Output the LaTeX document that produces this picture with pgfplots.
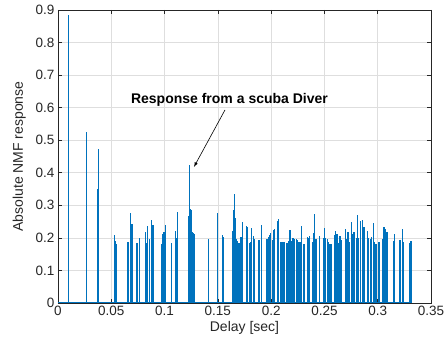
\documentclass[border=0pt]{standalone}
\usepackage{pgfplots}
\pgfplotsset{compat=1.18}
\usepackage{fontspec}
\setmainfont{Liberation Sans}
\definecolor{mblue}{rgb}{0,0.447,0.741}
\definecolor{mtext}{rgb}{0.15,0.15,0.15}
\definecolor{mgrid}{rgb}{0.87,0.87,0.87}
\begin{document}
\begin{tikzpicture}[x=1pt,y=1pt]
\begin{axis}[
  name=ax,
  scale only axis,
  width=373pt, height=293pt,
  xmin=0, xmax=0.35, ymin=0, ymax=0.9,
  xtick={0,0.05,...,0.35}, ytick={0,0.1,...,0.9},
  xticklabels={0,0.05,0.1,0.15,0.2,0.25,0.3,0.35},
  yticklabels={0,0.1,0.2,0.3,0.4,0.5,0.6,0.7,0.8,0.9},
  tick align=inside, xtick pos=both, ytick pos=both,
  major tick length=4pt,
  grid=major,
  major grid style={mgrid, line width=0.6pt},
  axis line style={mtext, line width=0.6pt},
  every tick/.style={mtext, line width=0.6pt},
  tick label style={font=\fontsize{13.5}{16}\selectfont, text=mtext},
  label style={font=\fontsize{14}{16}\selectfont, text=mtext},
  xlabel={Delay [sec]},
  ylabel={Absolute NMF response},
  xlabel style={yshift=2pt},
  ylabel style={yshift=3pt},
  clip=true,
]
\addplot[mblue, line width=1.4pt] coordinates {(0,0) (0.3325,0)};
\addplot[ycomb, mblue, line width=1.4pt, mark=none] coordinates {
(0.0097,0.884)
(0.0266,0.228)
(0.0269,0.524)
(0.0372,0.19)
(0.0375,0.351)
(0.0378,0.472)
(0.0381,0.43)
(0.0529,0.209)
(0.0535,0.19)
(0.054,0.181)
(0.0548,0.181)
(0.065,0.187)
(0.066,0.187)
(0.0682,0.277)
(0.0694,0.243)
(0.0741,0.184)
(0.0763,0.199)
(0.082,0.217)
(0.083,0.184)
(0.0838,0.237)
(0.086,0.196)
(0.0879,0.254)
(0.0891,0.239)
(0.0973,0.181)
(0.0982,0.212)
(0.0995,0.217)
(0.1007,0.240)
(0.1067,0.185)
(0.110,0.221)
(0.111,0.199)
(0.1123,0.279)
(0.1223,0.267)
(0.1232,0.424)
(0.1242,0.288)
(0.125,0.286)
(0.126,0.217)
(0.127,0.216)
(0.128,0.212)
(0.1414,0.196)
(0.1498,0.275)
(0.1542,0.209)
(0.1551,0.202)
(0.1636,0.221)
(0.1649,0.286)
(0.1655,0.334)
(0.1664,0.26)
(0.1673,0.197)
(0.1686,0.19)
(0.1698,0.185)
(0.171,0.202)
(0.172,0.202)
(0.1733,0.248)
(0.1767,0.236)
(0.1776,0.234)
(0.1795,0.185)
(0.1804,0.188)
(0.1814,0.229)
(0.1832,0.206)
(0.1842,0.198)
(0.188,0.193)
(0.1889,0.193)
(0.1908,0.240)
(0.1955,0.196)
(0.1964,0.196)
(0.1977,0.202)
(0.1986,0.209)
(0.1996,0.214)
(0.2015,0.193)
(0.2024,0.224)
(0.203,0.226)
(0.2062,0.253)
(0.2071,0.258)
(0.209,0.188)
(0.21,0.188)
(0.211,0.188)
(0.212,0.188)
(0.2146,0.183)
(0.2155,0.183)
(0.2165,0.19)
(0.2177,0.224)
(0.2186,0.19)
(0.2199,0.2)
(0.2208,0.2)
(0.2217,0.197)
(0.224,0.196)
(0.2249,0.193)
(0.2261,0.188)
(0.2274,0.188)
(0.2283,0.237)
(0.2302,0.181)
(0.2311,0.181)
(0.234,0.202)
(0.2349,0.2)
(0.2358,0.206)
(0.2386,0.188)
(0.2396,0.214)
(0.2405,0.274)
(0.2414,0.196)
(0.2427,0.196)
(0.2452,0.206)
(0.2489,0.199)
(0.2502,0.229)
(0.2512,0.2)
(0.253,0.196)
(0.254,0.188)
(0.2549,0.181)
(0.256,0.181)
(0.2593,0.209)
(0.2606,0.222)
(0.2615,0.212)
(0.2624,0.212)
(0.2634,0.183)
(0.2646,0.206)
(0.2662,0.193)
(0.27,0.228)
(0.2709,0.196)
(0.2721,0.217)
(0.2731,0.188)
(0.2756,0.249)
(0.2768,0.212)
(0.2778,0.217)
(0.2799,0.199)
(0.2808,0.269)
(0.2821,0.199)
(0.284,0.252)
(0.2856,0.254)
(0.2871,0.234)
(0.2906,0.221)
(0.2915,0.199)
(0.293,0.197)
(0.294,0.202)
(0.2959,0.245)
(0.2968,0.187)
(0.2981,0.181)
(0.299,0.181)
(0.3009,0.186)
(0.3018,0.187)
(0.3047,0.196)
(0.3059,0.234)
(0.3068,0.226)
(0.3078,0.219)
(0.309,0.217)
(0.3146,0.19)
(0.3156,0.212)
(0.3206,0.193)
(0.3215,0.193)
(0.3234,0.226)
(0.324,0.187)
(0.33,0.183)
(0.331,0.19)
(0.3319,0.19)
};
\draw[-latex, black, line width=0.6pt] (axis cs:0.1567,0.593) -- (axis cs:0.1276,0.418);
\node[font=\bfseries\fontsize{14}{16}\selectfont, text=black] at (axis cs:0.1609,0.624) {Response from a scuba Diver};
\end{axis}
\pgfresetboundingbox
\path ([xshift=-58pt,yshift=-42pt]ax.south west) rectangle ([xshift=17pt,yshift=10pt]ax.north east);
\end{tikzpicture}
\end{document}
